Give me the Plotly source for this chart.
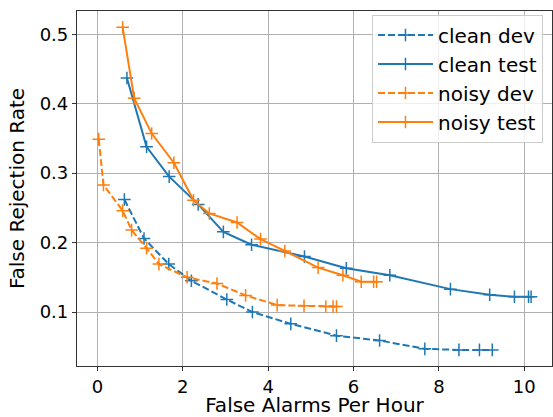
import plotly.graph_objects as go

clean_dev_x = [0.63, 1.09, 1.67, 2.20, 3.03, 3.63, 4.53, 5.60, 6.61, 7.67, 8.47, 8.95, 9.25]
clean_dev_y = [0.262, 0.206, 0.169, 0.145, 0.118, 0.100, 0.083, 0.066, 0.059, 0.047, 0.0455, 0.0455, 0.0455]

clean_test_x = [0.69, 1.15, 1.68, 2.36, 2.95, 3.61, 4.85, 5.83, 6.85, 8.27, 9.19, 9.77, 10.10, 10.16]
clean_test_y = [0.437, 0.338, 0.295, 0.255, 0.2155, 0.197, 0.180, 0.163, 0.153, 0.133, 0.125, 0.122, 0.122, 0.122]

noisy_dev_x = [0.03, 0.14, 0.59, 0.80, 1.15, 1.44, 2.10, 2.80, 3.47, 4.21, 4.84, 5.35, 5.52, 5.60]
noisy_dev_y = [0.349, 0.283, 0.246, 0.218, 0.192, 0.169, 0.150, 0.141, 0.124, 0.110, 0.109, 0.108, 0.108, 0.108]

noisy_test_x = [0.59, 0.86, 1.27, 1.79, 2.25, 2.62, 3.27, 3.82, 4.39, 5.17, 5.75, 6.18, 6.47, 6.54]
noisy_test_y = [0.510, 0.408, 0.357, 0.315, 0.261, 0.242, 0.229, 0.205, 0.188, 0.164, 0.153, 0.1436, 0.1436, 0.1436]

x_ticks = [0, 2, 4, 6, 8, 10]
y_ticks = [0.1, 0.2, 0.3, 0.4, 0.5]

BLUE = "#1f77b4"
ORANGE = "#ff7f0e"
FONT = "DejaVu Sans"

series = [
    ("clean dev", clean_dev_x, clean_dev_y, BLUE, "7px,3px"),
    ("clean test", clean_test_x, clean_test_y, BLUE, "solid"),
    ("noisy dev", noisy_dev_x, noisy_dev_y, ORANGE, "7px,3px"),
    ("noisy test", noisy_test_x, noisy_test_y, ORANGE, "solid"),
]

fig = go.Figure()
for name, xs, ys, color, dash in series:
    fig.add_trace(go.Scatter(
        x=xs, y=ys, name=name, mode="lines+markers",
        line=dict(color=color, width=2, dash=dash),
        marker=dict(symbol="cross-thin", size=9, line=dict(color=color, width=1.5)),
    ))

axis_common = dict(
    showgrid=True, gridcolor="#b0b0b0", gridwidth=1,
    showline=True, linecolor="#333333", linewidth=1.2, mirror=True,
    ticks="outside", ticklen=4, tickcolor="#333333", tickwidth=1,
    zeroline=False,
    tickfont=dict(family=FONT, size=18, color="black"),
)

fig.update_layout(
    width=553, height=417,
    margin=dict(l=77, r=1, t=11, b=51),
    paper_bgcolor="white", plot_bgcolor="white",
    font=dict(family=FONT, size=20, color="black"),
    xaxis=dict(range=[-0.48, 10.65], tickvals=x_ticks,
               title=dict(text="False Alarms Per Hour", font=dict(family=FONT, size=20), standoff=5),
               **axis_common),
    yaxis=dict(range=[0.0223, 0.5335], tickvals=y_ticks, tickformat=".1f",
               title=dict(text="False Rejection Rate", font=dict(family=FONT, size=20), standoff=9),
               **axis_common),
    legend=dict(x=0.981, y=0.99, xanchor="right", yanchor="top",
                bgcolor="rgba(255,255,255,0.8)", bordercolor="#cccccc", borderwidth=1,
                font=dict(family=FONT, size=20), tracegroupgap=0, itemwidth=55),
    showlegend=True,
)

fig.write_html("out.html", config={"displayModeBar": False},
               post_script="document.body.style.margin='0';document.body.style.padding='0';")
